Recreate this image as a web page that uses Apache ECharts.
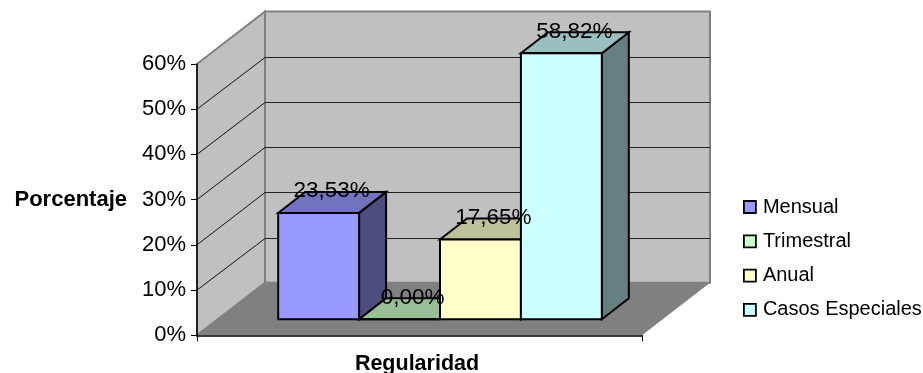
<!DOCTYPE html>
<html>
<head>
<meta charset="utf-8">
<style>html,body{margin:0;padding:0;background:#fff}#chart{width:923px;height:373px}</style>
<script src="https://cdn.jsdelivr.net/npm/echarts@6/dist/echarts.min.js"></script>
</head>
<body>
<div id="chart"></div>
<script>
// Regularity of the cases, one group of four columns in an oblique 3D box.
const groupLabels = ['Regularidad'];
const seriesNames = ['Mensual', 'Trimestral', 'Anual', 'Casos Especiales'];
const seriesValues = [23.53, 0, 17.65, 58.82];
const yTicks = [0, 10, 20, 30, 40, 50, 60];

const faceColors = [
  { front: '#9999FF', top: '#7373BF', side: '#4D4D80' },
  { front: '#CCFFCC', top: '#99BF99', side: '#668066' },
  { front: '#FFFFCC', top: '#BFBF99', side: '#808066' },
  { front: '#CCFFFF', top: '#99BFBF', side: '#668080' }
];

// Oblique projection: how far the box recedes, and where the column slab sits in it.
const BOX_DX = 68, BOX_DY = 52.5;
const SLAB_DX = 20.5, SLAB_DY = 16;
const DEPTH_DX = 27, DEPTH_DY = 21;
const GAP_RATIO = 1.5;
const font = '"Liberation Sans", Arial, sans-serif';

function poly(points, fill, stroke, lineWidth) {
  return {
    type: 'polygon',
    shape: { points },
    style: { fill, stroke: stroke || 'none', lineWidth: lineWidth || 0, lineJoin: 'miter' }
  };
}
function seg(x1, y1, x2, y2, stroke, lineWidth) {
  return {
    type: 'line',
    shape: { x1, y1, x2, y2 },
    style: { stroke, lineWidth, fill: 'none' }
  };
}

// Side wall, back wall, floor and gridlines of the box.
function renderBox(params, api) {
  const cs = params.coordSys;
  const left = cs.x, right = cs.x + cs.width;
  const y0 = api.coord([0, 0])[1];
  const yTop = api.coord([0, yTicks[yTicks.length - 1]])[1];
  const edge = '#808080';
  const children = [
    poly([[left + BOX_DX, yTop - BOX_DY], [right + BOX_DX, yTop - BOX_DY], [right + BOX_DX, y0 - BOX_DY], [left + BOX_DX, y0 - BOX_DY]], '#C0C0C0', edge, 2),
    poly([[left, yTop], [left + BOX_DX, yTop - BOX_DY], [left + BOX_DX, y0 - BOX_DY], [left, y0]], '#C0C0C0', edge, 2),
    poly([[left, y0], [right, y0], [right + BOX_DX, y0 - BOX_DY], [left + BOX_DX, y0 - BOX_DY]], '#808080')
  ];
  yTicks.slice(1, -1).forEach(t => {
    const y = api.coord([0, t])[1];
    const yBack = Math.round(y - BOX_DY) + 0.5;
    children.push(seg(left, y, left + BOX_DX, yBack, '#111', 1));
    children.push(seg(left + BOX_DX, yBack, right + BOX_DX, yBack, '#222', 1));
  });
  return { type: 'group', silent: true, children };
}

function renderColumn(index) {
  return function (params, api) {
    const value = api.value(1);
    const band = api.size([1, 0])[0];
    const center = api.coord([api.value(0), 0])[0];
    const barW = band / (seriesNames.length + GAP_RATIO);
    const x0 = center - band / 2 + barW * GAP_RATIO / 2 + barW * index + SLAB_DX;
    const x1 = x0 + barW;
    const yBase = api.coord([0, 0])[1] - SLAB_DY;
    const yTop = api.coord([0, value])[1] - SLAB_DY;
    const c = faceColors[index];
    const w = 2;
    const children = [
      poly([[x1, yTop], [x1 + DEPTH_DX, yTop - DEPTH_DY], [x1 + DEPTH_DX, yBase - DEPTH_DY], [x1, yBase]], c.side, '#000', w),
      poly([[x0, yTop], [x1, yTop], [x1 + DEPTH_DX, yTop - DEPTH_DY], [x0 + DEPTH_DX, yTop - DEPTH_DY]], c.top, '#000', w),
      poly([[x0, yTop], [x1, yTop], [x1, yBase], [x0, yBase]], c.front, '#000', w),
      {
        type: 'text',
        z2: 100,
        style: {
          x: (x0 + x1) / 2 + 13,
          y: yTop - DEPTH_DY - 1,
          text: value.toFixed(2).replace('.', ',') + '%',
          fill: '#000',
          font: '22.5px ' + font,
          align: 'center',
          verticalAlign: 'middle'
        }
      }
    ];
    return { type: 'group', children };
  };
}

const chart = echarts.init(document.getElementById('chart'), null, { renderer: 'canvas' });
chart.setOption({
  animation: false,
  backgroundColor: '#fff',
  textStyle: { fontFamily: font, color: '#000' },
  grid: { left: 197, right: 281, top: 64, bottom: 37.7, containLabel: false, outerBoundsMode: 'none' },
  xAxis: {
    type: 'category',
    data: groupLabels,
    z: 5,
    name: groupLabels[0],
    nameLocation: 'middle',
    nameGap: 18,
    nameTextStyle: { fontFamily: font, fontSize: 21.5, fontWeight: 'bold', color: '#000', padding: [0, 5, 0, 0] },
    axisLabel: { show: false },
    axisLine: { lineStyle: { color: '#000', width: 1.5 } },
    axisTick: { show: true, alignWithLabel: false, length: 6, lineStyle: { color: '#000', width: 1 } }
  },
  yAxis: {
    type: 'value',
    min: 0,
    max: 60,
    interval: 10,
    z: 5,
    name: 'Porcentaje',
    nameLocation: 'middle',
    nameRotate: 0,
    nameGap: 70,
    nameTextStyle: { fontFamily: font, fontSize: 22, fontWeight: 'bold', color: '#000', align: 'right', verticalAlign: 'middle', padding: [0, 0, 3, 0] },
    axisLine: { show: true, lineStyle: { color: '#000', width: 1.5 } },
    axisTick: { show: true, length: 6, lineStyle: { color: '#000', width: 1 } },
    axisLabel: { formatter: v => v + '%', fontFamily: font, fontSize: 22, color: '#000', margin: 11 },
    splitLine: { show: false }
  },
  legend: {
    left: 743,
    top: 197,
    padding: 0,
    orient: 'vertical',
    icon: 'rect',
    itemWidth: 12,
    itemHeight: 12,
    itemGap: 14.3,
    data: seriesNames,
    itemStyle: { borderColor: '#000', borderWidth: 1.8 },
    textStyle: { fontFamily: font, fontSize: 20, color: '#000', padding: [0, 0, 6, 2] },
    selectedMode: false
  },
  series: [
    { type: 'custom', name: 'box', z: 1, silent: true, data: [[0, 0]], renderItem: renderBox, encode: { x: 0, y: 1 } }
  ].concat(seriesNames.map((name, i) => ({
    type: 'custom',
    name,
    z: 3,
    data: [[0, seriesValues[i]]],
    encode: { x: 0, y: 1 },
    itemStyle: { color: faceColors[i].front },
    renderItem: renderColumn(i)
  })))
});
</script>
</body>
</html>
